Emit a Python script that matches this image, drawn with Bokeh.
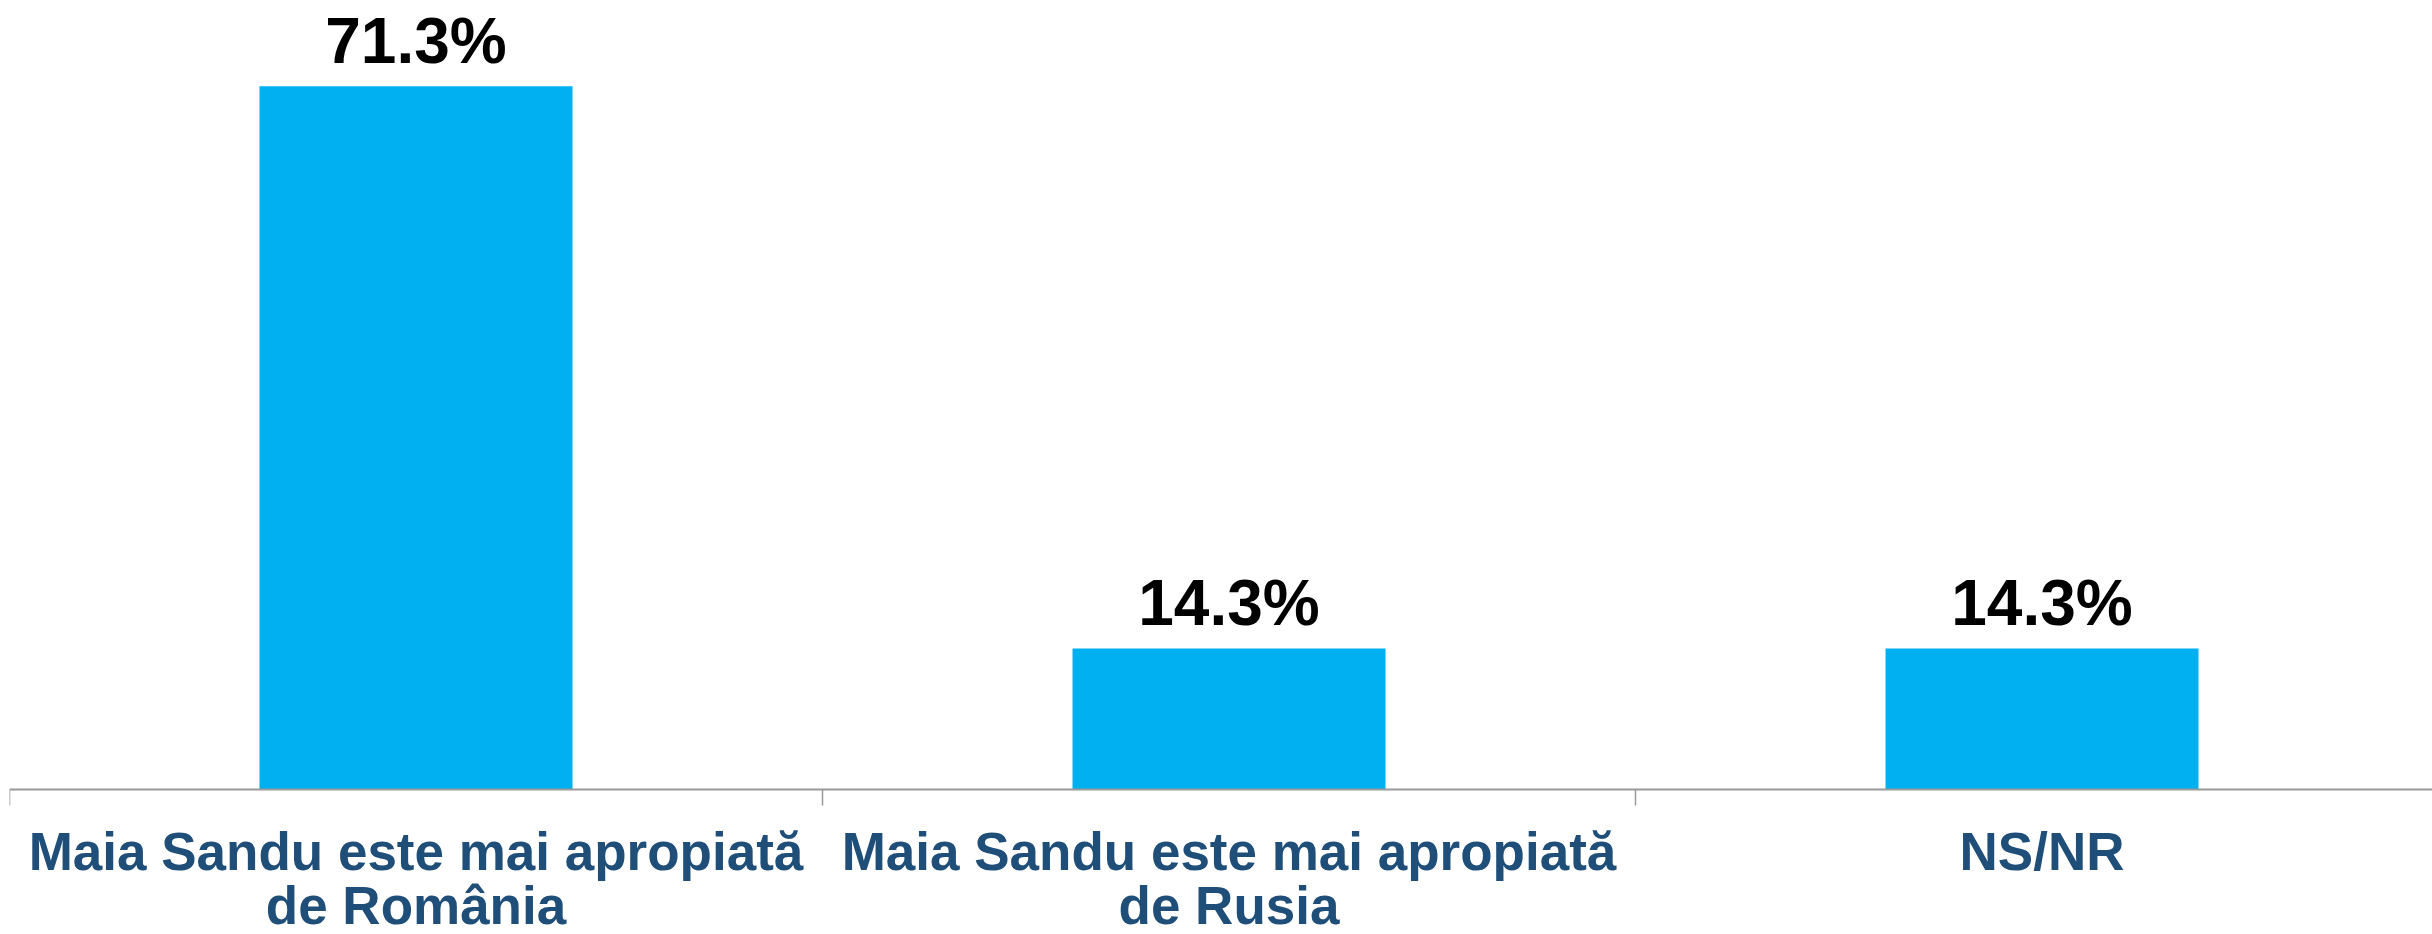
from bokeh.plotting import figure
from bokeh.models import ColumnDataSource, FixedTicker, Range1d
from bokeh.core.properties import value
from bokeh.embed import file_html
from bokeh.resources import INLINE

categories = [
    "Maia Sandu este mai apropiată\nde România",
    "Maia Sandu este mai apropiată\nde Rusia",
    "NS/NR",
]
values = [71.3, 14.3, 14.3]
value_labels = ["71.3%", "14.3%", "14.3%"]

xs = [i + 0.5 for i in range(len(categories))]
src = ColumnDataSource(dict(x=xs, top=values, lab=value_labels))

p = figure(width=2432, height=934, output_backend="svg", toolbar_location=None,
           x_range=Range1d(0, 2.9803), y_range=Range1d(-14.70, 80.0),
           y_axis_location=None, min_border_left=9, min_border_right=0,
           min_border_top=0, min_border_bottom=0)
p.outline_line_color = None
p.grid.visible = False
p.background_fill_color = "white"
p.border_fill_color = "white"

p.vbar(x="x", top="top", bottom=0, width=0.385, source=src, color="#00B0F0", line_color=None)
p.text(x="x", y="top", text="lab", source=src, text_align="center",
       text_baseline="alphabetic", y_offset=-45,
       text_font=value("Liberation Sans"), text_font_style="bold",
       text_font_size="64px", text_color="black")

ax = p.xaxis[0]
ax.fixed_location = 0
ax.ticker = FixedTicker(ticks=xs, minor_ticks=list(range(len(categories) + 1)))
ax.major_label_overrides = {x: c for x, c in zip(xs, categories)}
ax.major_tick_line_color = None
ax.major_tick_in = 0
ax.major_tick_out = 0
ax.minor_tick_in = 0
ax.minor_tick_out = 16
ax.minor_tick_line_color = "#999999"
ax.minor_tick_line_width = 1.5
ax.axis_line_color = "#999999"
ax.axis_line_width = 2
ax.major_label_text_font = "Liberation Sans"
ax.major_label_text_font_style = "bold"
ax.major_label_text_font_size = "53px"
ax.major_label_text_color = "#1F4E79"
ax.major_label_text_line_height = 0.92
ax.major_label_standoff = 16

open("out.html", "w").write(file_html(p, INLINE))
